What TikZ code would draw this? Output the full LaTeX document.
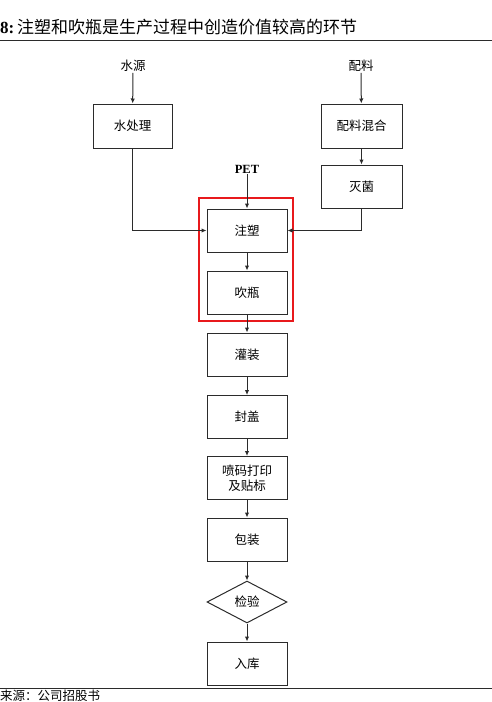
\documentclass[tikz,border=0pt]{standalone}
\usepackage{fontspec}
\setmainfont{Liberation Serif}
\newfontfamily\cjk{Noto Sans CJK SC}
\usepackage{xcolor}
\usetikzlibrary{shapes.geometric,arrows.meta}
\definecolor{linegray}{HTML}{2B2B2B}
\definecolor{keyred}{HTML}{E8191C}
\tikzset{
  stepbox/.style={draw=linegray,line width=1pt,minimum width=80pt,minimum height=43pt,inner sep=0pt,font=\cjk\fontsize{12.5}{15}\selectfont,align=center},
  checkbox/.style={diamond,draw=linegray,line width=1pt,minimum width=80pt,minimum height=42pt,inner sep=0pt,font=\cjk\fontsize{12.5}{15}\selectfont},
  source/.style={inner sep=1pt,font=\cjk\fontsize{12.5}{15}\selectfont},
  arr/.style={draw=linegray,line width=1pt,-{Latex[length=5pt,width=4.5pt]}}
}
\begin{document}
\begin{tikzpicture}[x=1pt,y=-1pt]
        \useasboundingbox (0,0) rectangle (492,702);
        % Title
        \node[anchor=base west,inner sep=0pt] (title) at (0,33) {\fontsize{17}{19}\selectfont\bfseries 8:\,{\cjk\mdseries 注塑和吹瓶是生产过程中创造价值较高的环节}};
        \draw[linegray,line width=1pt] (0,40) -- (492,40);
        % Inputs
        \node[source] (water) at (133,66) {水源};
        \node[source] (mat) at (361,66) {配料};
        \node[inner sep=1pt,font=\bfseries\fontsize{12.5}{15}\selectfont] (pet) at (247,169) {PET};
        % Side branches
        \node[stepbox,minimum width=79pt,minimum height=44pt] (wproc) at (132.5,126) {水处理};
        \node[stepbox,minimum width=81pt,minimum height=44pt] (mix) at (361.5,126) {配料混合};
        \node[stepbox,minimum width=81pt] (ster) at (361.5,186.5) {灭菌};
        % Main line
        \node[stepbox] (inj) at (247,230.5) {注塑};
        \node[stepbox] (blow) at (247,292.5) {吹瓶};
        \node[stepbox] (fill) at (247,354.5) {灌装};
        \node[stepbox] (seal) at (247,417) {封盖};
        \node[stepbox] (print) at (247,478) {喷码打印\\及贴标};
        \node[stepbox] (pack) at (247,539.5) {包装};
        \node[checkbox] (check) at (247,602) {检验};
        \node[stepbox] (store) at (247,663.5) {入库};
        % Key steps
        \draw[draw=keyred,line width=1.4pt] (199,198) rectangle (293,321);
        % Edges
        \draw[arr] (water) -- (wproc);
        \draw[arr] (mat) -- (mix);
        \draw[arr] (mix) -- (ster);
        \draw[arr] (wproc.south) |- (inj.west);
        \draw[arr] (ster.south) |- (inj.east);
        \draw[arr] (pet) -- (inj);
        \draw[arr] (inj) -- (blow);
        \draw[arr] (blow) -- (fill);
        \draw[arr] (fill) -- (seal);
        \draw[arr] (seal) -- (print);
        \draw[arr] (print) -- (pack);
        \draw[arr] (pack) -- (check);
        \draw[arr] (check) -- (store);
        % Source note
        \draw[linegray,line width=1pt] (0,688) -- (492,688);
        \node[anchor=base west,inner sep=0pt,font=\cjk\fontsize{12.5}{14}\selectfont] (note) at (0,700.5) {来源：公司招股书};
\end{tikzpicture}
\end{document}
